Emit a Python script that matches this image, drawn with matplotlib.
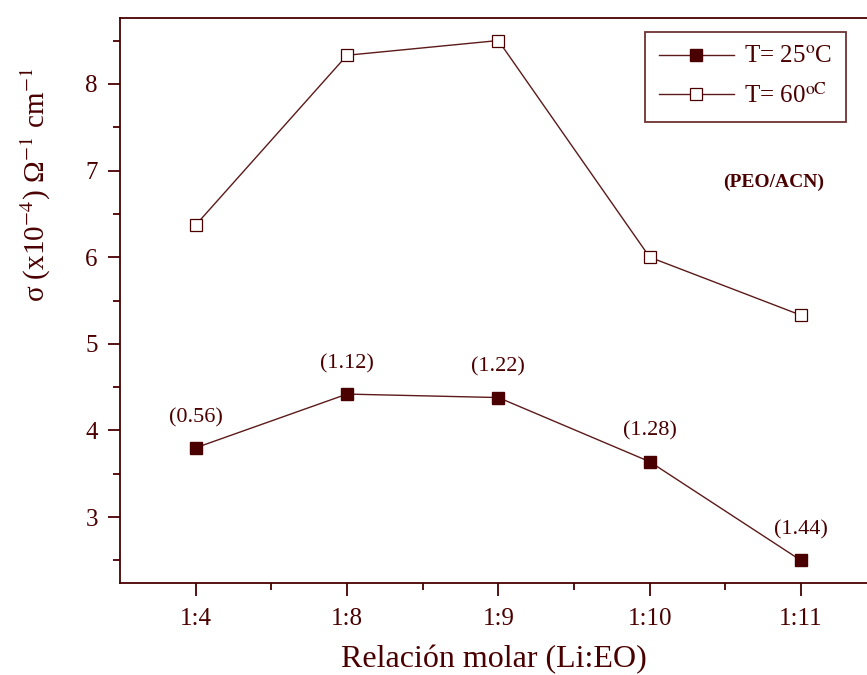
import matplotlib.pyplot as plt
import numpy as np

plt.rcParams['font.family'] = ['Liberation Serif', 'DejaVu Serif']
plt.rcParams['mathtext.fontset'] = 'stix'

col = '#4a0000'
lcol = '#5c1a1a'

ratios = ['1:4', '1:8', '1:9', '1:10', '1:11']
sig_25 = [3.80, 4.42, 4.38, 3.64, 2.50]
sig_60 = [6.37, 8.33, 8.50, 6.00, 5.33]
notes = ['(0.56)', '(1.12)', '(1.22)', '(1.28)', '(1.44)']

xpos = np.arange(len(ratios))

fig = plt.figure(figsize=(8.67, 6.75), dpi=100)
ax = fig.add_axes([120/867, 1 - 583/675, 1 - 120/867, (583-18)/675])

ax.plot(xpos, sig_25, '-s', color=lcol, lw=1, mfc=col, mec=col, ms=8,
        label='T= 25$^{\\rm o}$C')
ax.plot(xpos, sig_60, '-s', color=lcol, lw=1, mfc='white', mec=col, ms=8,
        mew=0.9, label='T= 60$^{\\rm oC}$')

for x, y, t in zip(xpos, sig_25, notes):
    ax.text(x, y + 0.35, t, ha='center', va='center', fontsize=16, color=col)

ax.text(3.82, 6.86, '(PEO/ACN)', fontsize=14, color=col, ha='center',
        va='center', fontweight='bold')

ax.set_xlim(-0.5, 4.436)
ax.set_ylim(2.24, 8.76)
ax.set_xticks(xpos)
ax.set_xticklabels(ratios)
ax.set_xticks(xpos[:-1] + 0.5, minor=True)
ax.set_yticks([3, 4, 5, 6, 7, 8])
ax.set_yticks(np.arange(2.5, 8.6, 1.0), minor=True)

for s in ['left', 'bottom', 'top']:
    ax.spines[s].set_color(col)
    ax.spines[s].set_linewidth(1.3)
ax.spines['right'].set_visible(False)

ax.tick_params(axis='both', which='major', colors=col, labelsize=18,
               width=1.3, length=9, direction='out', pad=7)
ax.tick_params(axis='both', which='minor', colors=col, width=1.3,
               length=5, direction='out')
ax.tick_params(axis='x', pad=9)

ax.set_xlabel('Relación molar (Li:EO)', fontsize=23, color=col)
ax.xaxis.set_label_coords(0.5, -(660 - 583) / 565, transform=ax.transAxes)
ax.xaxis.label.set_va('center')
ax.set_ylabel('σ (x10$^{-4}$) Ω$^{-1}$ cm$^{-1}$', fontsize=21, color=col)
ax.yaxis.set_label_coords(-(120 - 36) / 747, 1 - (185 - 18) / 565,
                          transform=ax.transAxes)
ax.yaxis.label.set_va('center')

leg = ax.legend(loc='upper left', bbox_to_anchor=(525/747, 1 - 14/565),
                fontsize=18, frameon=True, fancybox=False, handlelength=3.0,
                handletextpad=0.4, borderpad=0.55, labelspacing=0.6,
                borderaxespad=0)
leg.get_frame().set_edgecolor(col)
leg.get_frame().set_linewidth(1.3)
for t in leg.get_texts():
    t.set_color(col)

fig.savefig('out.png', dpi=100)
